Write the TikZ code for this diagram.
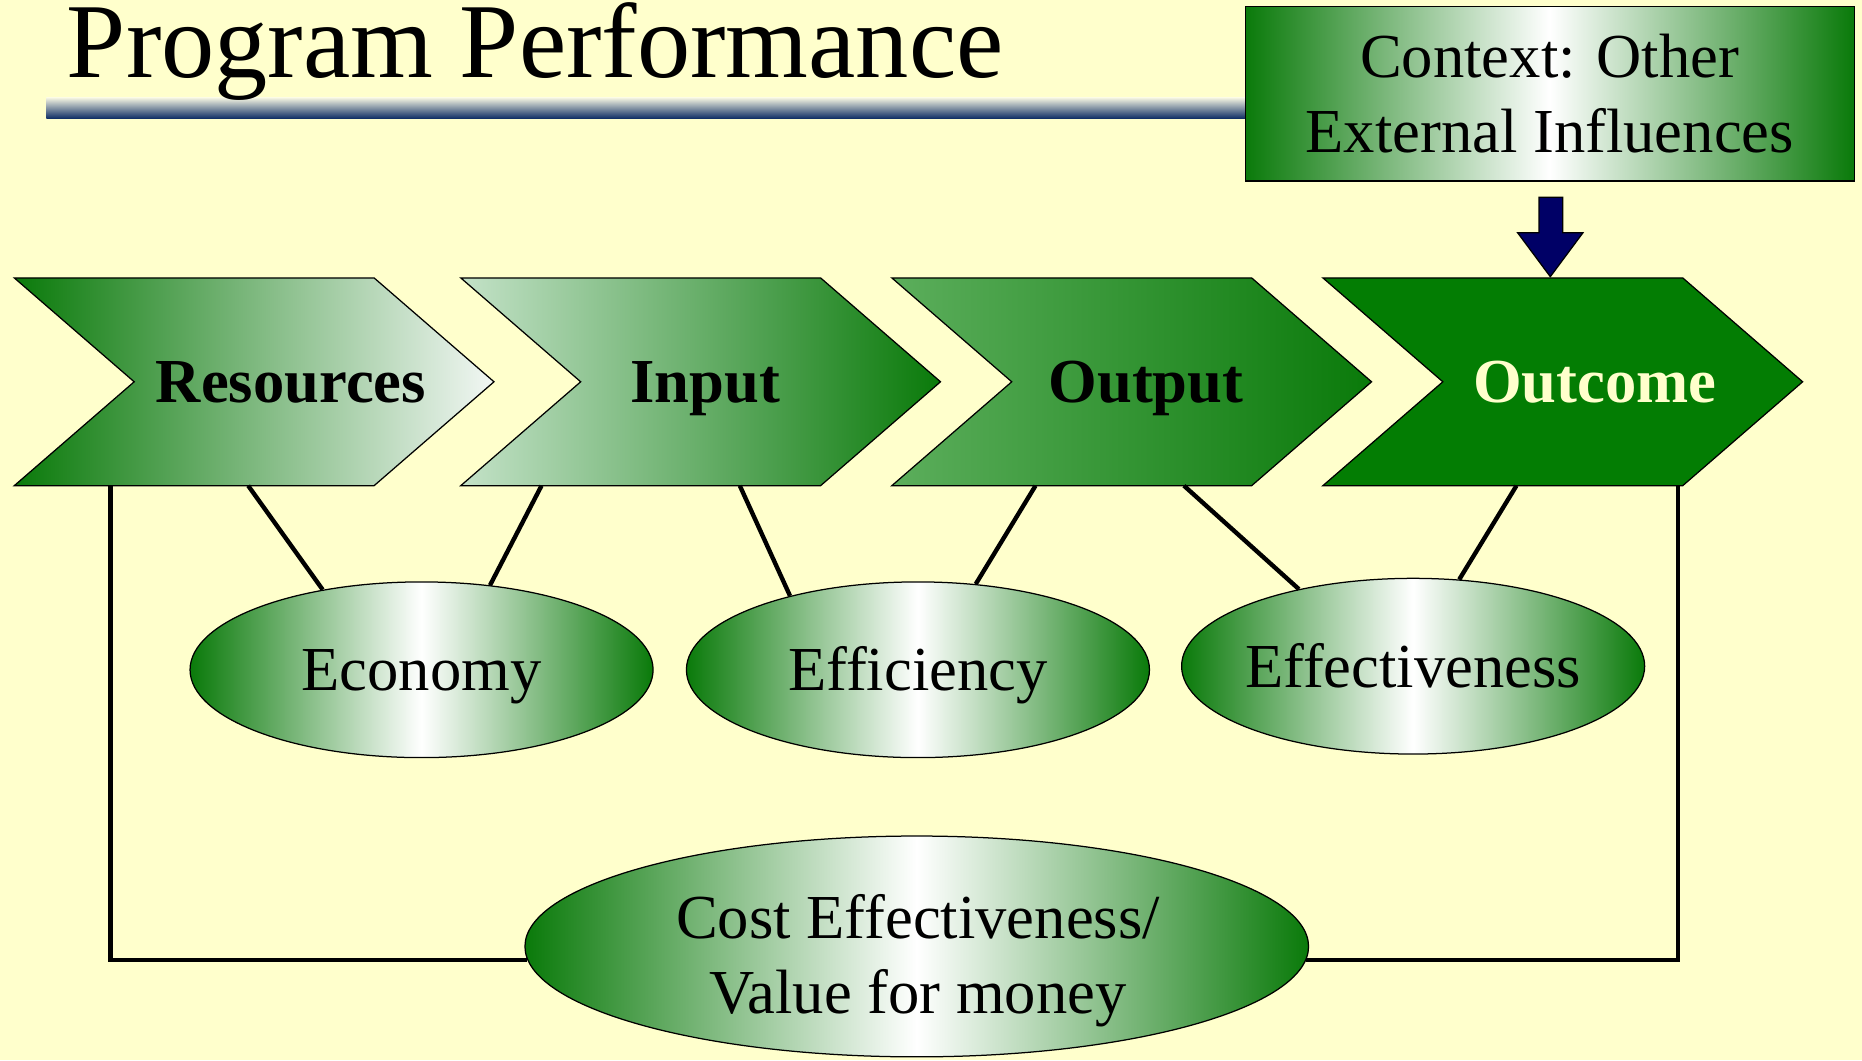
\documentclass[tikz,border=0pt]{standalone}
\usepackage{fontspec}
\setmainfont{Liberation Serif}
\usetikzlibrary{shapes.geometric}
\definecolor{bgyel}{RGB}{255,255,204}
\definecolor{leafgrn}{RGB}{10,122,10}
\definecolor{palegrn}{RGB}{196,226,200}
\definecolor{midgrn}{RGB}{92,174,92}
\definecolor{solidgrn}{RGB}{3,125,3}
\definecolor{mistwht}{RGB}{242,247,244}
\definecolor{navyblu}{RGB}{0,0,102}
\definecolor{barblu}{RGB}{10,42,98}
\begin{document}
\begin{tikzpicture}[x=0.02cm, y=-0.02cm,
  oval/.style={ellipse, draw, line width=0.6pt, left color=leafgrn, right color=leafgrn, middle color=white,
    minimum width=7.8cm, minimum height=2.96cm, inner xsep=-4pt, text height=20pt, text depth=0pt, font=\fontsize{30}{36}\selectfont},
  chev/.style={draw, line width=0.6pt},
  lbl/.style={anchor=base, inner sep=0pt, font=\fontsize{30}{36}\selectfont\bfseries},
  conn/.style={line width=2.1pt}]
\fill[bgyel] (0,0) rectangle (1568,893);
\useasboundingbox (0,0) rectangle (1568,893);

% title and bar
\shade[top color={rgb,255:red,248;green,248;blue,228}, bottom color=barblu] (39,82) rectangle (1049,100);
\node[anchor=base west, inner sep=0pt, font=\fontsize{51}{60}\selectfont] (title) at (56,65) {Program Performance};

\node[draw, line width=0.6pt, left color=leafgrn, right color=leafgrn, middle color=white,
  minimum width=10.26cm, minimum height=2.94cm, align=center, font=\fontsize{30}{36}\selectfont]
  (ctx) at (1305,79) {Context: Other\\External Influences};
\filldraw[fill=navyblu, line width=0.6pt] (1296,166) -- (1316,166) -- (1316,196) -- (1333,196) -- (1305.5,233) -- (1278,196) -- (1296,196) -- cycle;

% chevrons
\foreach \x/\lc/\rc in {12/leafgrn/mistwht, 388/palegrn/leafgrn, 751/midgrn/leafgrn, 1114/solidgrn/solidgrn}
  \shade[chev, left color=\lc, right color=\rc] (\x,234) -- ++(303,0) -- ++(101,87.5) -- ++(-101,87.5) -- ++(-303,0) -- ++(101,-87.5) -- cycle;

\node[lbl] (res) at (245,339) {Resources};
\node[lbl] (inp) at (594,339) {Input};
\node[lbl] (outp) at (965,339) {Output};
\node[lbl, text=bgyel] (outc) at (1343,339) {Outcome};

\coordinate (res-a) at (93,409);
\coordinate (res-b) at (209,409);
\coordinate (inp-a) at (456,409);
\coordinate (inp-b) at (623,409);
\coordinate (outp-a) at (872,409);
\coordinate (outp-b) at (997,409);
\coordinate (outc-a) at (1277,409);
\coordinate (outc-b) at (1413,409);

% measures
\node[oval] (eco) at (355,564) {Economy};
\node[oval] (effi) at (773,564) {Efficiency};
\node[oval] (effe) at (1190,561) {Effectiveness};
\node[oval, minimum width=13.2cm, minimum height=3.72cm] (cost) at (772,797) {};
\node[font=\fontsize{30}{36}\selectfont, align=center] (costtxt) at (773,809) {Cost Effectiveness/\\Value for money};

\draw[conn] (res-b) -- (eco.141);
\draw[conn] (inp-a) -- (eco.51);
\draw[conn] (inp-b) -- (effi.150);
\draw[conn] (outp-a) -- (effi.56);
\draw[conn] (outp-b) -- (effe.146);
\draw[conn] (outc-a) -- (effe.62);
\draw[conn] (res-a) |- (cost.182.5);
\draw[conn] (outc-b) |- (cost.-2.5);
\end{tikzpicture}
\end{document}
